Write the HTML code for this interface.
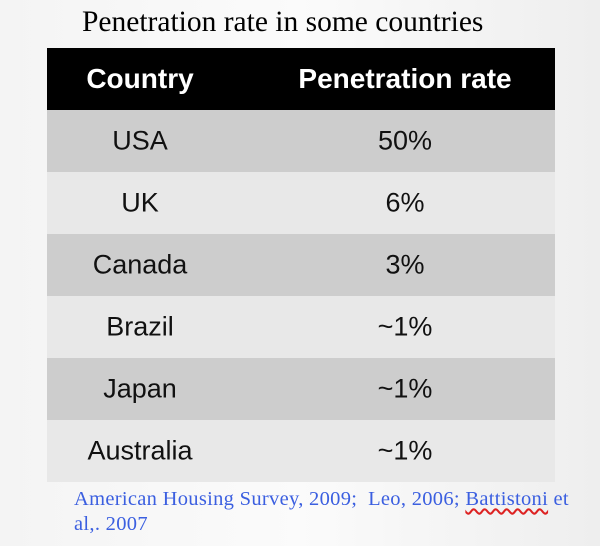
<!DOCTYPE html>
<html><head><style>
body{margin:0;width:600px;height:546px;background:linear-gradient(90deg,#f4f4f4,#fbfbfb 50%,#eeeeee);position:relative;overflow:hidden;font-family:"Liberation Sans",sans-serif}
.t{position:absolute;left:82px;top:6px;font-family:"Liberation Serif",serif;font-size:29.5px;color:#000}
.r{position:absolute;left:47px;width:508px;height:62px;font-size:27px;color:#111}
.r span{position:absolute;top:50%;transform:translate(-50%,-50%);white-space:nowrap}
.a{left:93px}.b{left:358px}
.h{background:#000;color:#fff;font-weight:bold;font-size:28px}
.d{background:#cdcdcd}.l{background:#e8e8e8}
.c{position:absolute;left:74px;top:487px;font-family:"Liberation Serif",serif;font-size:20.5px;color:#3b5fe0;line-height:25px;white-space:nowrap;letter-spacing:0.3px}
.u{text-decoration:underline wavy #d22;text-underline-offset:3px}
</style></head><body>
<div class="t">Penetration rate in some countries</div>
<div class="r h" style="top:48px"><span class="a">Country</span><span class="b">Penetration rate</span></div>
<div class="r d" style="top:110px"><span class="a">USA</span><span class="b">50%</span></div>
<div class="r l" style="top:172px"><span class="a">UK</span><span class="b">6%</span></div>
<div class="r d" style="top:234px"><span class="a">Canada</span><span class="b">3%</span></div>
<div class="r l" style="top:296px"><span class="a">Brazil</span><span class="b">~1%</span></div>
<div class="r d" style="top:358px"><span class="a">Japan</span><span class="b">~1%</span></div>
<div class="r l" style="top:420px"><span class="a">Australia</span><span class="b">~1%</span></div>
<div class="c">American Housing Survey, 2009;&nbsp; Leo, 2006; <span class="u">Battistoni</span> et<br>al,. 2007</div>
</body></html>
